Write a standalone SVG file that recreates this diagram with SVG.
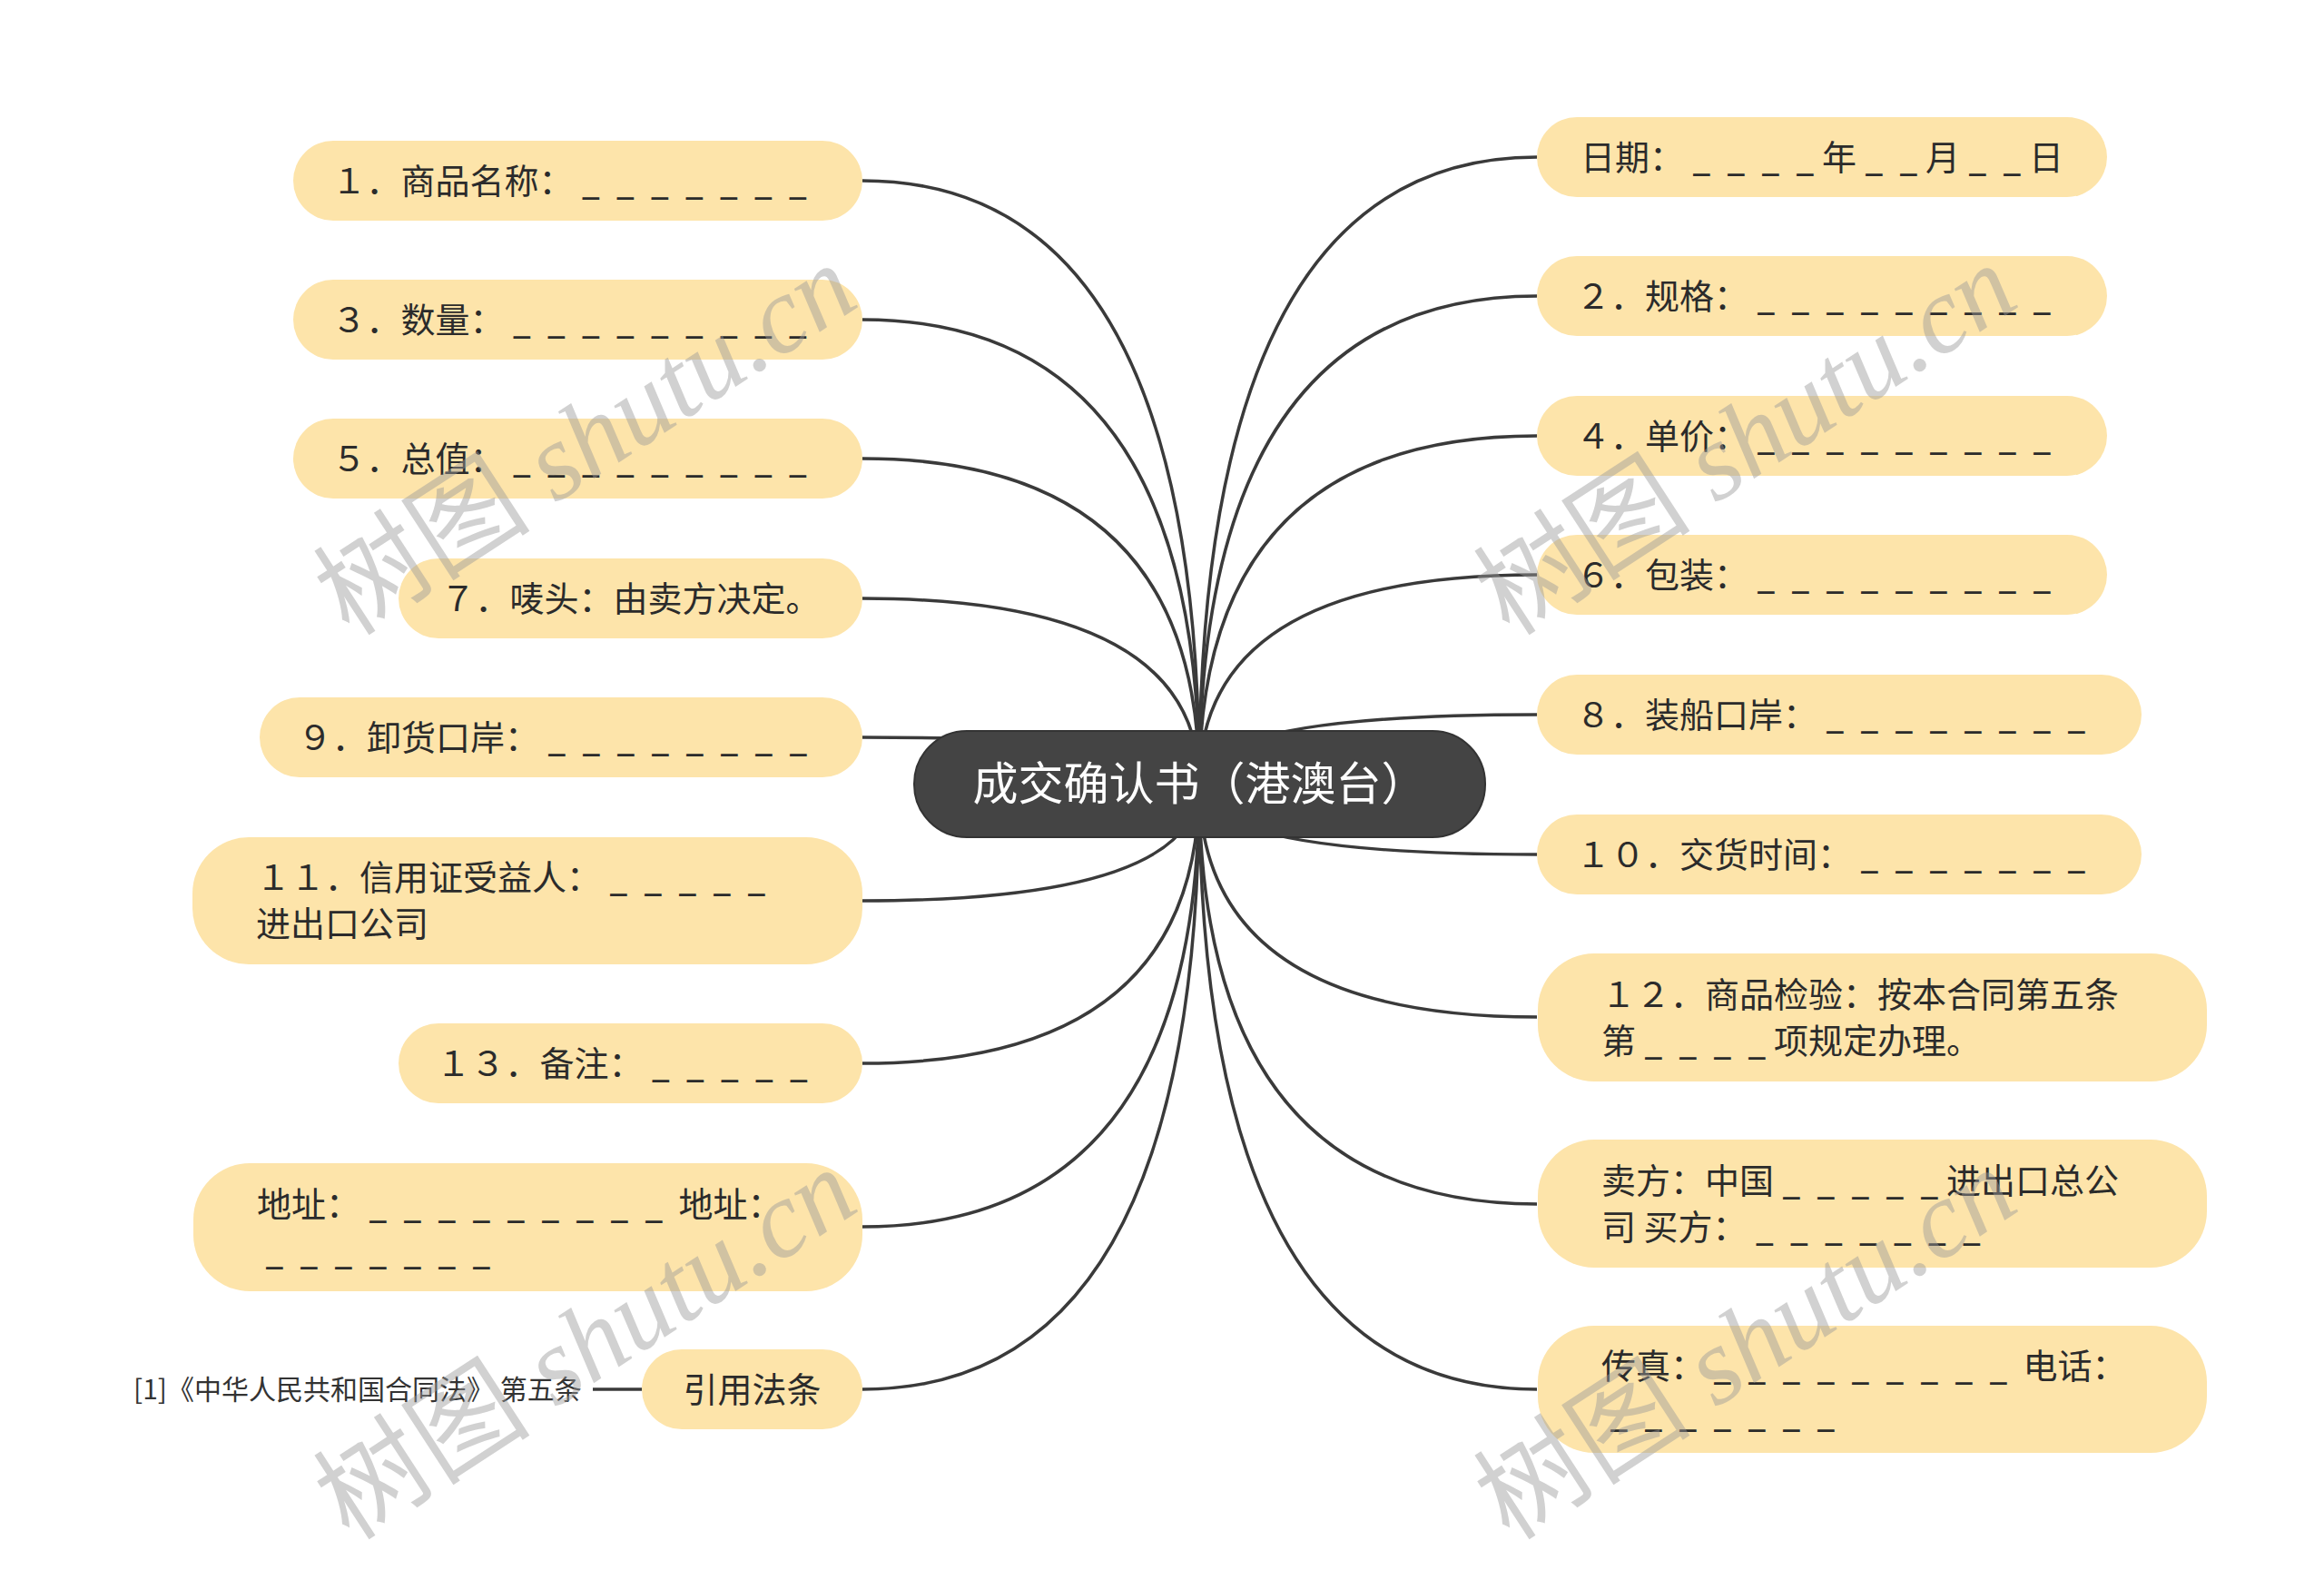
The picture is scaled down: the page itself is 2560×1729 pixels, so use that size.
<svg xmlns="http://www.w3.org/2000/svg" width="2560" height="1729" viewBox="0 0 2560 1729">
<style>
.bg{fill:#ffffff}
.n{fill:#fde4aa}
.c{fill:#444444;stroke:#333333;stroke-width:2}
.t{font-family:"Noto Sans CJK SC","Noto Sans",sans-serif;font-size:38px;fill:#2b2b2b}
.m{text-anchor:middle}
.ct{font-family:"Noto Sans CJK SC","Noto Sans",sans-serif;font-size:50px;fill:#ffffff;text-anchor:middle}
.u{font-family:"DejaVu Sans Mono",monospace;font-size:31px;font-weight:bold;letter-spacing:19.34px}
.v{letter-spacing:9.34px}
.cite{font-family:"Noto Sans CJK SC","Noto Sans",sans-serif;font-size:30px;fill:#333333}
.l{fill:none;stroke:#3a3a3a;stroke-width:3.5}
.wm{font-size:120px;fill:#9a9a9a;opacity:0.45}
.wc{font-family:"Noto Sans CJK SC",sans-serif}
.ws{font-family:"Liberation Serif",serif;font-style:italic}
</style>
<rect class="bg" x="0" y="0" width="2560" height="1729"/>
<g id="connectors">
<path class="l" d="M1321,863 Q1321,199 950,199"/>
<path class="l" d="M1321,863 Q1321,352 950,352"/>
<path class="l" d="M1321,863 Q1321,505 950,505"/>
<path class="l" d="M1321,863 Q1321,659 950,659"/>
<path class="l" d="M1321,863 Q1321,812 950,812"/>
<path class="l" d="M1321,863 Q1321,992 950,992"/>
<path class="l" d="M1321,863 Q1321,1171 950,1171"/>
<path class="l" d="M1321,863 Q1321,1351 950,1351"/>
<path class="l" d="M1321,863 Q1321,1530 950,1530"/>
<path class="l" d="M1321,863 Q1321,173 1693,173"/>
<path class="l" d="M1321,863 Q1321,326 1693,326"/>
<path class="l" d="M1321,863 Q1321,480 1693,480"/>
<path class="l" d="M1321,863 Q1321,633 1693,633"/>
<path class="l" d="M1321,863 Q1321,787 1693,787"/>
<path class="l" d="M1321,863 Q1321,941 1693,941"/>
<path class="l" d="M1321,863 Q1321,1120 1693,1120"/>
<path class="l" d="M1321,863 Q1321,1326 1693,1326"/>
<path class="l" d="M1321,863 Q1321,1530 1693,1530"/>
<path class="l" d="M653,1530 L707,1530"/>
</g>
<g id="center">
<rect class="c" x="1007" y="805" width="629" height="117" rx="58" ry="58"/>
<text class="ct" x="1321.5" y="881">成交确认书（港澳台）</text>
</g>
<g id="n1">
<rect class="n" x="323" y="155" width="627" height="88" rx="44"/>
<text class="t m" x="636.5" y="213">１．商品名称：<tspan class="u" dx="10">_______</tspan></text>
</g>
<g id="n3">
<rect class="n" x="323" y="308" width="627" height="88" rx="44"/>
<text class="t m" x="636.5" y="366">３．数量：<tspan class="u" dx="10">_________</tspan></text>
</g>
<g id="n5">
<rect class="n" x="323" y="461" width="627" height="88" rx="44"/>
<text class="t m" x="636.5" y="519">５．总值：<tspan class="u" dx="10">_________</tspan></text>
</g>
<g id="n7">
<rect class="n" x="439" y="615" width="511" height="88" rx="44"/>
<text class="t m" x="694.5" y="673">７．唛头：由卖方决定。</text>
</g>
<g id="n9">
<rect class="n" x="286" y="768" width="664" height="88" rx="44"/>
<text class="t m" x="618" y="826">９．卸货口岸：<tspan class="u" dx="10">________</tspan></text>
</g>
<g id="n11">
<rect class="n" x="212" y="922" width="738" height="140" rx="62"/>
<text class="t" x="282" y="980">１１．信用证受益人：<tspan class="u" dx="10">_____</tspan></text>
<text class="t" x="282" y="1031">进出口公司</text>
</g>
<g id="n13">
<rect class="n" x="439" y="1127" width="511" height="88" rx="44"/>
<text class="t m" x="694.5" y="1185">１３．备注：<tspan class="u" dx="10">_____</tspan></text>
</g>
<g id="n-addr">
<rect class="n" x="213" y="1281" width="737" height="141" rx="62"/>
<text class="t" x="283" y="1340">地址：<tspan class="u" dx="10">________</tspan><tspan class="u v">_</tspan> 地址：</text>
<text class="t" x="283" y="1391"><tspan class="u" dx="10">_______</tspan></text>
</g>
<g id="n-cite">
<rect class="n" x="707" y="1486" width="243" height="88" rx="44"/>
<text class="t m" x="828.5" y="1544">引用法条</text>
</g>
<g id="cite-text">
<text class="cite" x="147" y="1541">[1]《中华人民共和国合同法》 第五条</text>
</g>
<g id="r-date">
<rect class="n" x="1693" y="129" width="628" height="88" rx="44"/>
<text class="t m" x="2007" y="187">日期：<tspan class="u" dx="10">___</tspan><tspan class="u v">_</tspan>年<tspan class="u" dx="10">_</tspan><tspan class="u v">_</tspan>月<tspan class="u" dx="10">_</tspan><tspan class="u v">_</tspan>日</text>
</g>
<g id="r2">
<rect class="n" x="1693" y="282" width="628" height="88" rx="44"/>
<text class="t m" x="2007" y="340">２．规格：<tspan class="u" dx="10">_________</tspan></text>
</g>
<g id="r4">
<rect class="n" x="1693" y="436" width="628" height="88" rx="44"/>
<text class="t m" x="2007" y="494">４．单价：<tspan class="u" dx="10">_________</tspan></text>
</g>
<g id="r6">
<rect class="n" x="1693" y="589" width="628" height="88" rx="44"/>
<text class="t m" x="2007" y="647">６．包装：<tspan class="u" dx="10">_________</tspan></text>
</g>
<g id="r8">
<rect class="n" x="1693" y="743" width="666" height="88" rx="44"/>
<text class="t m" x="2026" y="801">８．装船口岸：<tspan class="u" dx="10">________</tspan></text>
</g>
<g id="r10">
<rect class="n" x="1693" y="897" width="666" height="88" rx="44"/>
<text class="t m" x="2026" y="955">１０．交货时间：<tspan class="u" dx="10">_______</tspan></text>
</g>
<g id="r12">
<rect class="n" x="1694" y="1050" width="737" height="141" rx="62"/>
<text class="t" x="1764" y="1109">１２．商品检验：按本合同第五条</text>
<text class="t" x="1764" y="1160">第<tspan class="u" dx="10">___</tspan><tspan class="u v">_</tspan>项规定办理。</text>
</g>
<g id="r-seller">
<rect class="n" x="1694" y="1255" width="737" height="141" rx="62"/>
<text class="t" x="1764" y="1314">卖方：中国<tspan class="u" dx="10">____</tspan><tspan class="u v">_</tspan>进出口总公</text>
<text class="t" x="1764" y="1365">司 买方：<tspan class="u" dx="10">_______</tspan></text>
</g>
<g id="r-fax">
<rect class="n" x="1694" y="1460" width="737" height="140" rx="62"/>
<text class="t" x="1764" y="1518">传真：<tspan class="u" dx="10">________</tspan><tspan class="u v">_</tspan> 电话：</text>
<text class="t" x="1764" y="1570"><tspan class="u" dx="10">_______</tspan></text>
</g>
<g id="watermarks">
<text class="wm" transform="translate(385,702) rotate(-33)"><tspan class="wc">树图</tspan><tspan class="ws"> shutu.cn</tspan></text>
<text class="wm" transform="translate(1663,702) rotate(-33)"><tspan class="wc">树图</tspan><tspan class="ws"> shutu.cn</tspan></text>
<text class="wm" transform="translate(385,1698) rotate(-33)"><tspan class="wc">树图</tspan><tspan class="ws"> shutu.cn</tspan></text>
<text class="wm" transform="translate(1663,1698) rotate(-33)"><tspan class="wc">树图</tspan><tspan class="ws"> shutu.cn</tspan></text>
</g>
</svg>
